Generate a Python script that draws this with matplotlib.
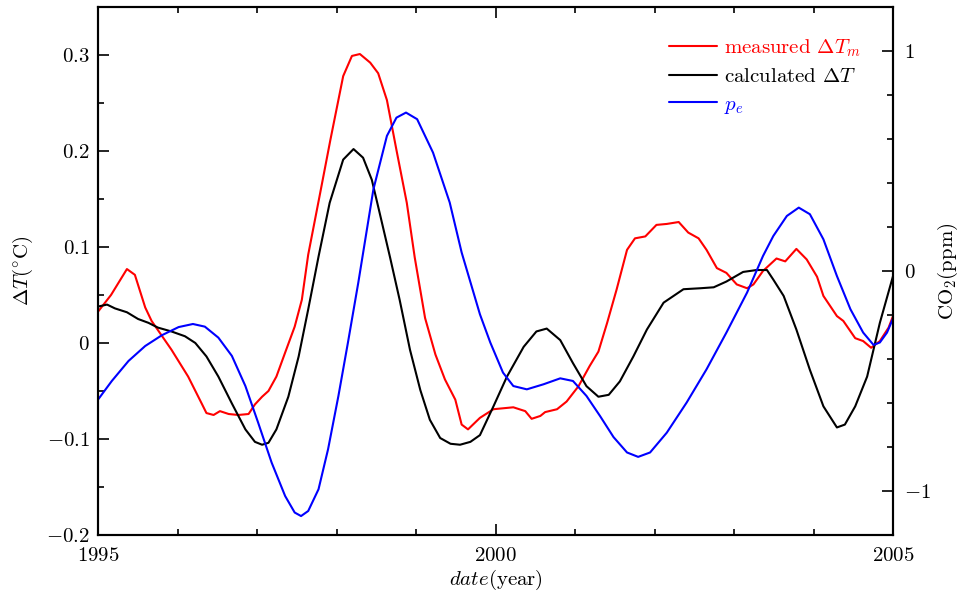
import matplotlib
matplotlib.use("Agg")
import matplotlib.pyplot as plt
from matplotlib.ticker import FixedLocator, MultipleLocator

plt.rcParams['font.family'] = 'serif'
plt.rcParams['font.serif'] = ['cmr10']
plt.rcParams['mathtext.fontset'] = 'cm'
plt.rcParams['axes.formatter.use_mathtext'] = True
plt.rcParams['axes.unicode_minus'] = True

# measured Delta T_m (left axis, deg C)
meas_year = [1995.00, 1995.16, 1995.36, 1995.46, 1995.59, 1995.67, 1995.92, 1996.13, 1996.30, 1996.36,
             1996.45, 1996.53, 1996.64, 1996.76, 1996.89, 1996.97, 1997.06, 1997.14, 1997.24, 1997.35,
             1997.47, 1997.56, 1997.64, 1997.79, 1997.92, 1998.08, 1998.19, 1998.29, 1998.42, 1998.52,
             1998.63, 1998.75, 1998.88, 1998.98, 1999.11, 1999.24, 1999.36, 1999.49, 1999.57, 1999.65,
             1999.80, 1999.97, 2000.22, 2000.37, 2000.45, 2000.56, 2000.62, 2000.77, 2000.89, 2001.04,
             2001.18, 2001.29, 2001.40, 2001.52, 2001.65, 2001.75, 2001.88, 2002.02, 2002.15, 2002.30,
             2002.42, 2002.55, 2002.65, 2002.78, 2002.90, 2003.03, 2003.16, 2003.24, 2003.36, 2003.53,
             2003.64, 2003.78, 2003.91, 2004.04, 2004.12, 2004.29, 2004.37, 2004.52, 2004.62, 2004.72,
             2004.83, 2004.94, 2005.00]
meas_dT = [0.033, 0.050, 0.077, 0.071, 0.037, 0.023, -0.007, -0.035, -0.063, -0.073,
           -0.075, -0.071, -0.074, -0.075, -0.074, -0.064, -0.056, -0.050, -0.035, -0.010,
           0.017, 0.045, 0.092, 0.156, 0.212, 0.278, 0.299, 0.301, 0.292, 0.281,
           0.253, 0.201, 0.146, 0.089, 0.026, -0.012, -0.038, -0.059, -0.085, -0.090,
           -0.078, -0.069, -0.067, -0.071, -0.079, -0.076, -0.072, -0.069, -0.061, -0.045,
           -0.024, -0.009, 0.021, 0.056, 0.097, 0.109, 0.111, 0.123, 0.124, 0.126,
           0.115, 0.109, 0.097, 0.078, 0.073, 0.061, 0.057, 0.061, 0.075, 0.088,
           0.085, 0.098, 0.087, 0.069, 0.049, 0.028, 0.023, 0.005, 0.002, -0.005,
           0.002, 0.016, 0.029]

# calculated Delta T (left axis, deg C)
calc_year = [1995.00, 1995.11, 1995.21, 1995.36, 1995.50, 1995.63, 1995.75, 1995.92, 1996.09, 1996.22,
             1996.36, 1996.51, 1996.68, 1996.85, 1996.97, 1997.06, 1997.14, 1997.24, 1997.39, 1997.52,
             1997.64, 1997.77, 1997.91, 1998.08, 1998.21, 1998.33, 1998.44, 1998.54, 1998.67, 1998.79,
             1998.92, 1999.05, 1999.17, 1999.30, 1999.43, 1999.55, 1999.68, 1999.80, 1999.97, 2000.14,
             2000.35, 2000.51, 2000.64, 2000.81, 2000.97, 2001.14, 2001.29, 2001.42, 2001.56, 2001.73,
             2001.90, 2002.11, 2002.36, 2002.57, 2002.74, 2002.90, 2003.11, 2003.28, 2003.41, 2003.49,
             2003.62, 2003.78, 2003.95, 2004.12, 2004.29, 2004.39, 2004.52, 2004.67, 2004.83, 2005.00]
calc_dT = [0.038, 0.040, 0.036, 0.032, 0.025, 0.021, 0.016, 0.012, 0.007, 0.000,
           -0.014, -0.035, -0.063, -0.090, -0.103, -0.106, -0.104, -0.090, -0.056, -0.014,
           0.035, 0.090, 0.146, 0.191, 0.202, 0.193, 0.170, 0.135, 0.089, 0.045,
           -0.007, -0.049, -0.080, -0.099, -0.105, -0.106, -0.103, -0.096, -0.066, -0.035,
           -0.004, 0.012, 0.015, 0.003, -0.021, -0.045, -0.056, -0.054, -0.040, -0.014,
           0.014, 0.042, 0.056, 0.057, 0.058, 0.064, 0.074, 0.076, 0.076, 0.066,
           0.049, 0.014, -0.028, -0.066, -0.088, -0.085, -0.066, -0.035, 0.021, 0.071]

# p_e (right axis, CO2 ppm)
pe_year = [1995.00, 1995.17, 1995.38, 1995.59, 1995.80, 1996.01, 1996.19, 1996.34, 1996.51, 1996.68,
           1996.85, 1997.01, 1997.18, 1997.35, 1997.47, 1997.55, 1997.64, 1997.77, 1997.89, 1998.02,
           1998.14, 1998.27, 1998.46, 1998.63, 1998.75, 1998.87, 1999.01, 1999.21, 1999.42, 1999.57,
           1999.80, 1999.93, 2000.09, 2000.22, 2000.39, 2000.60, 2000.81, 2000.97, 2001.14, 2001.31,
           2001.48, 2001.65, 2001.79, 2001.94, 2002.15, 2002.40, 2002.65, 2002.90, 2003.16, 2003.36,
           2003.49, 2003.66, 2003.81, 2003.95, 2004.12, 2004.29, 2004.46, 2004.62, 2004.75, 2004.83,
           2004.92, 2005.00]
pe_co2 = [-0.583, -0.500, -0.409, -0.341, -0.292, -0.255, -0.241, -0.253, -0.303, -0.386,
          -0.523, -0.689, -0.871, -1.023, -1.098, -1.114, -1.091, -0.992, -0.810, -0.568,
          -0.325, -0.053, 0.371, 0.614, 0.697, 0.720, 0.690, 0.538, 0.311, 0.084,
          -0.197, -0.325, -0.462, -0.523, -0.538, -0.515, -0.488, -0.500, -0.568, -0.659,
          -0.755, -0.825, -0.845, -0.825, -0.735, -0.598, -0.447, -0.280, -0.098, 0.068,
          0.159, 0.250, 0.288, 0.258, 0.144, -0.023, -0.174, -0.280, -0.336, -0.325,
          -0.280, -0.212]

left_ticks = [-0.2, -0.1, 0.0, 0.1, 0.2, 0.3]
left_labels = [r'$-0.2$', r'$-0.1$', r'$0$', r'$0.1$', r'$0.2$', r'$0.3$']
right_ticks = [-1, 0, 1]
right_labels = [r'$-1$', r'$0$', r'$1$']
x_ticks = [1995, 2000, 2005]
x_labels = [r'$1995$', r'$2000$', r'$2005$']

FS = 15
fig = plt.figure(figsize=(9.6, 5.97), dpi=100)
ax = fig.add_axes([0.1024, 0.1039, 0.8282, 0.8844])
ax2 = ax.twinx()

kw = dict(lw=1.5, solid_joinstyle='round', solid_capstyle='round')
l1, = ax.plot(meas_year, meas_dT, color='#ff0000', **kw)
l2, = ax.plot(calc_year, calc_dT, color='black', **kw)
l3, = ax2.plot(pe_year, pe_co2, color='#0000ff', **kw)

ax.set_xlim(1995, 2005)
ax.set_ylim(-0.2, 0.35)
ax2.set_ylim(-1.2, 1.2)

ax.xaxis.set_major_locator(FixedLocator(x_ticks))
ax.set_xticklabels(x_labels)
ax.xaxis.set_minor_locator(MultipleLocator(1))
ax.yaxis.set_major_locator(FixedLocator(left_ticks))
ax.set_yticklabels(left_labels)
ax.yaxis.set_minor_locator(MultipleLocator(0.05))
ax2.yaxis.set_major_locator(FixedLocator(right_ticks))
ax2.set_yticklabels(right_labels)
ax2.yaxis.set_minor_locator(MultipleLocator(0.2))

ax.tick_params(axis='both', which='both', direction='in', labelsize=FS, width=1.2)
ax.tick_params(axis='x', which='both', top=True, bottom=True, pad=9)
ax.tick_params(axis='y', which='both', left=True, right=False, pad=6)
ax.tick_params(which='major', length=8)
ax.tick_params(which='minor', length=4)
ax2.tick_params(axis='y', which='both', direction='in', labelsize=FS, width=1.2, pad=8)
ax2.tick_params(which='major', length=8)
ax2.tick_params(which='minor', length=4)

for a in (ax, ax2):
    for s in a.spines.values():
        s.set_linewidth(1.5)

ax.set_ylabel(r'$\Delta T(^{\circ}\mathrm{C})$', fontsize=FS, labelpad=8)
ax2.set_ylabel(r'$\mathrm{CO_2(ppm)}$', fontsize=FS, labelpad=3)
ax.set_xlabel(r'$date$(year)', fontsize=FS, labelpad=2)

leg = ax.legend([l1, l2, l3], [r'measured $\Delta T_m$', r'calculated $\Delta T$', r'$p_e$'],
                loc='upper right', bbox_to_anchor=(0.972, 0.962), frameon=False, fontsize=FS,
                handlelength=2.3, handletextpad=0.35, labelspacing=0.42, borderpad=0)
for t, c in zip(leg.get_texts(), ['#ff0000', 'black', '#0000ff']):
    t.set_color(c)

fig.savefig('out.png', dpi=100)
